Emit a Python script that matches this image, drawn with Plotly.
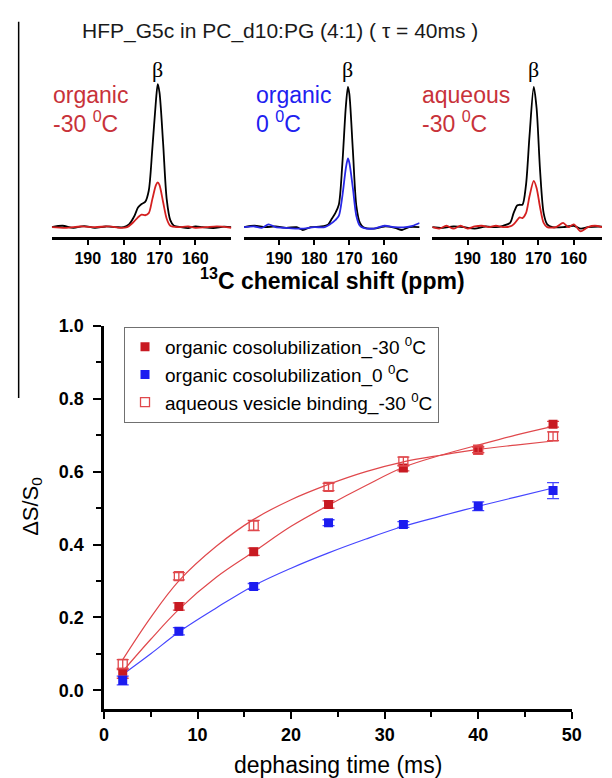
import plotly.graph_objects as go

W, H = 612, 778
FONT = "Liberation Sans, Arial, sans-serif"

# ---------------- main chart data ----------------
t_ms = [2, 8, 16, 24, 32, 40, 48]
org_m30 = [0.045, 0.230, 0.380, 0.510, 0.610, 0.660, 0.730]
org_m30_err = [0.012, 0.010, 0.010, 0.010, 0.008, 0.008, 0.008]
org_0 = [0.027, 0.162, 0.285, 0.460, 0.455, 0.505, 0.548]
org_0_err = [0.012, 0.010, 0.008, 0.008, 0.008, 0.012, 0.022]
aq_m30 = [0.072, 0.313, 0.452, 0.558, 0.628, 0.660, 0.697]
aq_m30_err = [0.012, 0.010, 0.014, 0.010, 0.012, 0.008, 0.012]

fit_t = [2, 5, 8, 12, 16, 20, 24, 28, 32, 36, 40, 44, 48]
fit_org_m30 = [0.052, 0.140, 0.222, 0.310, 0.380, 0.450, 0.508, 0.562, 0.612, 0.645, 0.673, 0.700, 0.724]
fit_org_0 = [0.043, 0.100, 0.160, 0.226, 0.287, 0.335, 0.377, 0.415, 0.450, 0.478, 0.505, 0.530, 0.555]
fit_aq_m30 = [0.084, 0.200, 0.300, 0.395, 0.469, 0.523, 0.565, 0.600, 0.627, 0.645, 0.661, 0.673, 0.684]

legend_names = ["organic cosolubilization_-30 <sup>0</sup>C",
                "organic cosolubilization_0 <sup>0</sup>C",
                "aqueous vesicle binding_-30 <sup>0</sup>C"]

# ---------------- spectra data (ppm, normalised intensity) ----------------
p1_ppm = [200, 197, 194, 191, 188, 185, 182, 180, 178.5, 177, 176, 175, 174, 173, 172, 171, 170.5, 170, 169, 168, 167, 166, 164, 162, 160, 158, 155, 152, 150]
p1_black = [0.0, 0.01, -0.005, 0.008, -0.005, 0.005, 0.0, 0.0, 0.02, 0.08, 0.14, 0.165, 0.18, 0.26, 0.56, 0.90, 1.02, 0.96, 0.60, 0.20, 0.05, 0.01, 0.0, -0.006, 0.006, 0.0, -0.006, 0.004, 0.0]
p1_red_ppm = [200, 196, 192, 188, 184, 181, 179, 177.5, 176, 175, 174, 173, 172, 171, 170.5, 170, 169, 168, 167, 165, 162, 160, 157, 154, 150]
p1_red = [0.0, -0.005, 0.005, 0.0, 0.006, -0.005, 0.0, 0.03, 0.07, 0.09, 0.085, 0.10, 0.20, 0.30, 0.32, 0.30, 0.18, 0.06, 0.01, 0.0, 0.005, -0.005, 0.0, 0.006, -0.004]

p2_ppm = [200, 197, 194, 191, 188, 185, 183.3, 181, 178, 176, 175, 174, 173, 172, 171, 170.4, 170, 169, 168, 167, 166, 163, 160, 157, 155, 153, 150]
p2_black = [0.0, 0.01, 0.0, 0.006, -0.005, 0.0, -0.02, 0.0, 0.005, 0.02, 0.06, 0.10, 0.16, 0.45, 0.86, 1.0, 0.95, 0.55, 0.15, 0.03, 0.0, -0.01, 0.005, -0.005, -0.02, 0.0, 0.0]
p2_blue_ppm = [200, 197, 195, 193, 191, 188, 185, 183, 180, 177, 175.5, 174, 173, 172, 171, 170.4, 170, 169, 168, 167, 166, 163, 160, 157, 154, 152, 150]
p2_blue = [0.0, 0.005, -0.005, 0.02, 0.0, -0.005, -0.01, -0.01, 0.0, 0.0, 0.02, 0.05, 0.08, 0.22, 0.42, 0.49, 0.46, 0.28, 0.08, 0.01, -0.005, -0.01, 0.01, 0.0, 0.0, 0.01, 0.03]

p3_ppm = [200, 197, 194, 191, 188, 185, 182, 180, 178, 177, 176, 175.3, 174.5, 173.5, 172.5, 171.3, 170.5, 169.5, 168.5, 167.5, 166, 163, 160, 158, 156, 153, 150]
p3_black = [0.0, -0.005, 0.005, 0.0, -0.01, 0.005, 0.0, 0.01, 0.03, 0.10, 0.155, 0.16, 0.16, 0.30, 0.65, 1.0, 0.85, 0.40, 0.10, 0.02, 0.0, 0.0, 0.01, -0.01, 0.0, 0.005, 0.0]
p3_red_ppm = [200, 198, 196, 194, 192, 190, 188, 186, 184, 182, 180, 178, 177, 176, 175.3, 174.5, 173.5, 172.5, 171.3, 170.5, 169.5, 168.5, 167.5, 165, 163, 161.5, 160, 158, 156, 154, 152]
p3_red = [0.0, -0.01, 0.01, -0.01, 0.01, -0.01, 0.005, 0.01, 0.0, 0.01, 0.0, 0.005, 0.02, 0.05, 0.07, 0.065, 0.10, 0.22, 0.33, 0.28, 0.14, 0.03, 0.0, 0.0, 0.03, 0.0, 0.02, -0.03, 0.0, 0.01, 0.0]

ppm_ticks = [190, 180, 170, 160]

# ---------------- colours ----------------
RED = "#c81a22"
RED_LINE = "#e0484c"
BLUE = "#1c1cf0"
BLUE_LINE = "#4646ff"
RED_TXT = "#c8323a"
BLUE_TXT = "#2020f0"


def px_x(p):
    return p / W


def px_y(p):
    return 1 - p / H


fig = go.Figure()

# fit curves
fig.add_trace(go.Scatter(x=fit_t, y=fit_org_m30, mode="lines", line=dict(color=RED_LINE, width=1.2, shape="spline"),
                         showlegend=False, xaxis="x", yaxis="y"))
fig.add_trace(go.Scatter(x=fit_t, y=fit_org_0, mode="lines", line=dict(color=BLUE_LINE, width=1.2, shape="spline"),
                         showlegend=False, xaxis="x", yaxis="y"))
fig.add_trace(go.Scatter(x=fit_t, y=fit_aq_m30, mode="lines", line=dict(color=RED_LINE, width=1.2, shape="spline"),
                         showlegend=False, xaxis="x", yaxis="y"))

# data points
fig.add_trace(go.Scatter(x=t_ms, y=org_m30, mode="markers", name=legend_names[0],
                         marker=dict(symbol="square", size=9, color=RED),
                         error_y=dict(type="data", array=org_m30_err, color=RED_LINE, thickness=1.3, width=6),
                         xaxis="x", yaxis="y"))
fig.add_trace(go.Scatter(x=t_ms, y=org_0, mode="markers", name=legend_names[1],
                         marker=dict(symbol="square", size=9, color=BLUE),
                         error_y=dict(type="data", array=org_0_err, color=BLUE_LINE, thickness=1.3, width=6),
                         xaxis="x", yaxis="y"))
fig.add_trace(go.Scatter(x=t_ms, y=aq_m30, mode="markers", name=legend_names[2],
                         marker=dict(symbol="square-open", size=9, color=RED_LINE, line=dict(width=1.3)),
                         error_y=dict(type="data", array=aq_m30_err, color=RED_LINE, thickness=1.3, width=6),
                         xaxis="x", yaxis="y"))

# spectra
spectra = [
    ("x2", "y2", p1_ppm, p1_black, p1_red_ppm, p1_red, "#d42020"),
    ("x3", "y3", p2_ppm, p2_black, p2_blue_ppm, p2_blue, "#2828e6"),
    ("x4", "y4", p3_ppm, p3_black, p3_red_ppm, p3_red, "#d42020"),
]
for xa, ya, bx, by, cx, cy, col in spectra:
    fig.add_trace(go.Scatter(x=bx, y=by, mode="lines", line=dict(color="black", width=1.8, shape="spline", smoothing=0.8),
                             showlegend=False, xaxis=xa, yaxis=ya))
    fig.add_trace(go.Scatter(x=cx, y=cy, mode="lines", line=dict(color=col, width=1.8, shape="spline", smoothing=0.8),
                             showlegend=False, xaxis=xa, yaxis=ya))

tickfont_main = dict(family=FONT, size=18, color="black", weight="bold")
layout = dict(
    width=W, height=H,
    margin=dict(l=0, r=0, t=0, b=0),
    paper_bgcolor="white", plot_bgcolor="white",
    font=dict(family=FONT, color="black"),
    xaxis=dict(domain=[px_x(101.5), px_x(581)], range=[0, 50], anchor="y",
               showline=True, linewidth=2.5, linecolor="black", showgrid=False, zeroline=False,
               ticks="outside", ticklen=7, tickwidth=2, tickcolor="black", dtick=10, tick0=0,
               minor=dict(dtick=5, ticks="outside", ticklen=5, tickwidth=2, tickcolor="black", showgrid=False),
               tickfont=dict(family=FONT, size=18, color="black", weight="bold")),
    yaxis=dict(domain=[px_y(708.3), px_y(320)], range=[-0.052, 1.0], anchor="x",
               showline=True, linewidth=2.5, linecolor="black", showgrid=False, zeroline=False,
               ticks="outside", ticklen=8, tickwidth=2, tickcolor="black", dtick=0.2, tick0=0, tickformat=".1f",
               ticklabelstandoff=6,
               minor=dict(dtick=0.1, ticks="outside", ticklen=5, tickwidth=2, tickcolor="black", showgrid=False),
               tickfont=tickfont_main),
    legend=dict(x=px_x(122), y=px_y(321), xanchor="left", yanchor="top",
                bordercolor="#707070", borderwidth=1, bgcolor="white",
                font=dict(family=FONT, size=19, color="black"), itemwidth=30),
)

panel_x = [(48, 232, 150), (245, 425, 150), (438, 612, 152)]
names = [("xaxis2", "yaxis2", "y2", "x2"), ("xaxis3", "yaxis3", "y3", "x3"), ("xaxis4", "yaxis4", "y4", "x4")]
for (x0, x1, rmin), (xn, yn, yref, xref) in zip(panel_x, names):
    layout[xn] = dict(domain=[px_x(x0), px_x(x1)], range=[200, rmin], anchor=yref,
                      showline=True, linewidth=2.5, linecolor="black", showgrid=False, zeroline=False,
                      ticks="outside", ticklen=5, tickwidth=2, tickcolor="black", tickvals=ppm_ticks,
                      ticklabelstandoff=0,
                      tickfont=dict(family=FONT, size=16, color="black", weight="bold"))
    layout[yn] = dict(domain=[px_y(230), px_y(50)], range=[-0.0704, 1.197], anchor=xref, visible=False)

fig.update_layout(**layout)

ann = []
ann.append(dict(text="HFP_G5c in PC_d10:PG (4:1) ( τ = 40ms )", x=px_x(282), y=px_y(21), xref="paper", yref="paper",
                showarrow=False, font=dict(family=FONT, size=21, color="#1a1a1a"), xanchor="center", yanchor="middle"))
# beta labels at peaks
for xref, yref, pk in [("x2", "y2", 170.5), ("x3", "y3", 170.4), ("x4", "y4", 171.3)]:
    ann.append(dict(text="β", x=pk, y=1.02, xref=xref, yref=yref, showarrow=False, xanchor="center", yanchor="bottom",
                    font=dict(family="Liberation Serif, DejaVu Serif, serif", size=22, color="black")))
# condition labels
conds = [(47, "organic", "-30 <sup>0</sup>C", RED_TXT), (255, "organic", "0 <sup>0</sup>C", BLUE_TXT),
         (425, "aqueous", "-30 <sup>0</sup>C", RED_TXT)]
for xl, l1, l2, c in conds:
    ann.append(dict(text=l1, x=px_x(xl), y=px_y(86), xref="paper", yref="paper", showarrow=False,
                    xanchor="left", yanchor="middle", font=dict(family=FONT, size=23, color=c)))
    ann.append(dict(text=l2, x=px_x(xl), y=px_y(113), xref="paper", yref="paper", showarrow=False,
                    xanchor="left", yanchor="middle", font=dict(family=FONT, size=23, color=c)))
ann.append(dict(text="<sup>13</sup>C chemical shift (ppm)", x=px_x(336), y=px_y(272), xref="paper", yref="paper",
                showarrow=False, xanchor="center", yanchor="middle",
                font=dict(family=FONT, size=23, color="black", weight="bold")))
ann.append(dict(text="dephasing time (ms)", x=px_x(341), y=px_y(765), xref="paper", yref="paper",
                showarrow=False, xanchor="center", yanchor="middle", font=dict(family=FONT, size=23, color="black")))
ann.append(dict(text="ΔS/S<sub>0</sub>", x=px_x(27), y=px_y(503), xref="paper", yref="paper", textangle=-90,
                showarrow=False, xanchor="center", yanchor="middle", font=dict(family=FONT, size=22, color="black")))
fig.update_layout(annotations=ann)

fig.add_shape(type="line", xref="paper", yref="paper", x0=px_x(14), x1=px_x(14), y0=px_y(12), y1=px_y(393),
              line=dict(color="black", width=1.5))

fig.write_html("out.html")
